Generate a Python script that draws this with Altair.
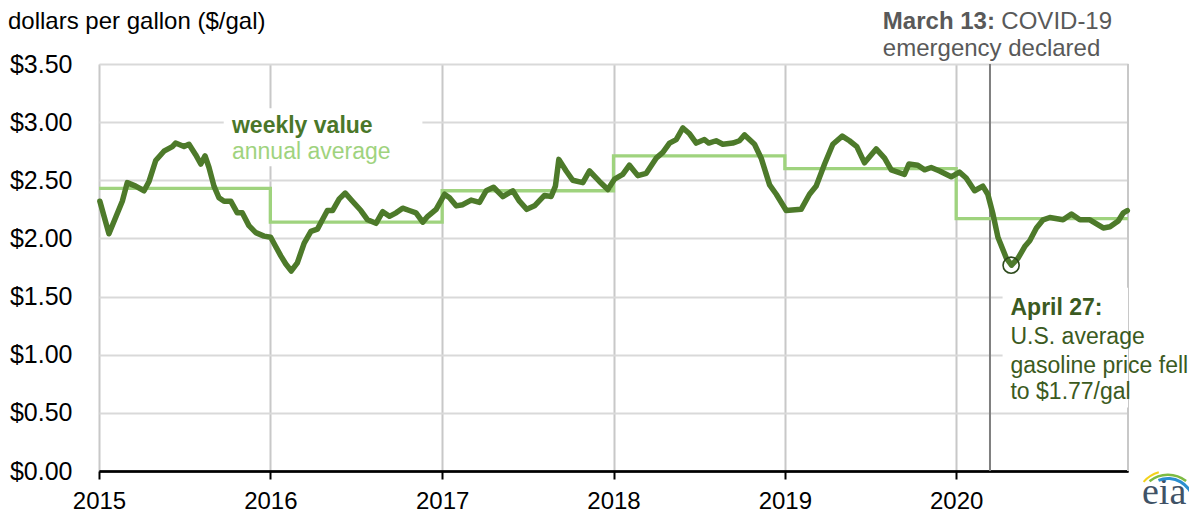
import altair as alt
import numpy as np
import pandas as pd

# ---- data ----
# weekly U.S. regular gasoline retail price (decimal year, $/gal)
weekly_time = [
    2015.005, 2015.058, 2015.097, 2015.136, 2015.165, 2015.214, 2015.263, 2015.292, 2015.331,
    2015.379, 2015.428, 2015.447, 2015.496, 2015.525, 2015.564, 2015.594, 2015.619, 2015.642,
    2015.671, 2015.700, 2015.730, 2015.769, 2015.807, 2015.836, 2015.875, 2015.915, 2015.963,
    2016.002, 2016.031, 2016.061, 2016.090, 2016.122, 2016.157, 2016.197, 2016.236, 2016.274,
    2016.303, 2016.332, 2016.362, 2016.401, 2016.436, 2016.478, 2016.527, 2016.566, 2016.615,
    2016.654, 2016.693, 2016.732, 2016.770, 2016.809, 2016.848, 2016.887, 2016.916, 2016.965,
    2017.014, 2017.043, 2017.082, 2017.120, 2017.169, 2017.218, 2017.257, 2017.300, 2017.354,
    2017.412, 2017.451, 2017.494, 2017.539, 2017.597, 2017.636, 2017.661, 2017.681, 2017.724,
    2017.762, 2017.821, 2017.860, 2017.918, 2017.967,
    2018.006, 2018.054, 2018.093, 2018.142, 2018.191, 2018.249, 2018.288, 2018.327, 2018.366,
    2018.405, 2018.444, 2018.483, 2018.531, 2018.556, 2018.599, 2018.638, 2018.696, 2018.735,
    2018.765, 2018.823, 2018.862, 2018.911, 2018.950,
    2019.008, 2019.095, 2019.144, 2019.183, 2019.232, 2019.280, 2019.335, 2019.377, 2019.420,
    2019.465, 2019.533, 2019.582, 2019.621, 2019.698, 2019.724, 2019.776, 2019.815, 2019.854,
    2019.903, 2019.971,
    2020.019, 2020.058, 2020.107, 2020.155, 2020.184, 2020.214, 2020.243, 2020.292, 2020.322,
    2020.360, 2020.399, 2020.428, 2020.467, 2020.506, 2020.545, 2020.622, 2020.671, 2020.720,
    2020.778, 2020.856, 2020.895, 2020.943, 2020.973, 2020.996,
]
weekly_price = [
    2.32, 2.04, 2.18, 2.32, 2.48, 2.45, 2.41, 2.49, 2.67,
    2.75, 2.79, 2.82, 2.79, 2.81, 2.72, 2.64, 2.71, 2.61,
    2.45, 2.35, 2.32, 2.32, 2.22, 2.22, 2.11, 2.05, 2.02,
    2.01, 1.93, 1.85, 1.78, 1.72, 1.79, 1.96, 2.06, 2.08,
    2.16, 2.24, 2.24, 2.34, 2.39, 2.32, 2.24, 2.16, 2.13,
    2.23, 2.19, 2.22, 2.26, 2.24, 2.22, 2.14, 2.19, 2.25,
    2.38, 2.35, 2.28, 2.29, 2.33, 2.31, 2.41, 2.44, 2.36,
    2.41, 2.32, 2.25, 2.28, 2.37, 2.36, 2.45, 2.68, 2.58,
    2.50, 2.48, 2.58, 2.49, 2.42,
    2.51, 2.55, 2.63, 2.54, 2.56, 2.69, 2.74, 2.82, 2.85,
    2.95, 2.90, 2.82, 2.85, 2.82, 2.84, 2.81, 2.82, 2.84,
    2.89, 2.81, 2.69, 2.46, 2.38,
    2.24, 2.25, 2.38, 2.45, 2.64, 2.81, 2.88, 2.84, 2.79,
    2.65, 2.77, 2.69, 2.59, 2.55, 2.64, 2.63, 2.59, 2.61,
    2.58, 2.53,
    2.57, 2.52, 2.41, 2.45, 2.38, 2.21, 2.01, 1.83, 1.77,
    1.83, 1.93, 1.98, 2.09, 2.16, 2.18, 2.16, 2.21, 2.16,
    2.16, 2.09, 2.10, 2.15, 2.22, 2.24,
]
years = [2015, 2016, 2017, 2018, 2019, 2020]
annual_avg = [2.43, 2.14, 2.41, 2.71, 2.60, 2.17]
y_ticks = [0, 0.5, 1.0, 1.5, 2.0, 2.5, 3.0, 3.5]
low_date = "2020-04-27"
low_price = 1.77
covid_date = "2020-03-13"

# ---- styling ----
FONT = "Liberation Sans"
DARK = "#4d7a2a"
LIGHT = "#9fd37e"
TXT_DARK = "#3b5a21"
GREY_TXT = "#595959"


def dec_to_date(d):
    y = int(np.floor(d))
    start = pd.Timestamp(year=y, month=1, day=1)
    end = pd.Timestamp(year=y + 1, month=1, day=1)
    return (start + (end - start) * (d - y)).strftime("%Y-%m-%dT%H:%M:%S")


weekly = pd.DataFrame({"date": [dec_to_date(t) for t in weekly_time], "price": weekly_price})
annual = pd.DataFrame({
    "date": [f"{y}-01-01T00:00:00" for y in years] + [f"{years[-1] + 1}-01-01T00:00:00"],
    "price": annual_avg + [annual_avg[-1]],
})

xs = alt.Scale(domain=[alt.DateTime(year=2015, month=1, date=1),
                       alt.DateTime(year=2021, month=1, date=1)], nice=False)
ys = alt.Scale(domain=[0, 3.5], nice=False, zero=False)

x_axis = alt.Axis(
    values=[alt.DateTime(year=y, month=1, date=1) for y in years],
    format="%Y", title=None, labelFont=FONT, labelFontSize=24, labelColor="black",
    labelPadding=10, tickSize=8, tickWidth=2, tickColor="black",
    domainColor="black", domainWidth=2.5, grid=True, gridColor="#c8c8c8", gridWidth=2,
    labelFlush=False,
)
y_axis = alt.Axis(
    values=y_ticks, format="$.2f", title=None, labelFont=FONT, labelFontSize=25,
    labelColor="black", labelPadding=27, ticks=False, domain=False,
    gridColor={"condition": {"test": "datum.value === 0", "value": "black"}, "value": "#d9d9d9"},
    gridWidth=2,
)


def one(**cols):
    return pd.DataFrame({k: [v] for k, v in cols.items()})


def xenc(field="x:T"):
    return alt.X(field, scale=xs, axis=x_axis)


def yenc(field="y:Q"):
    return alt.Y(field, scale=ys, axis=y_axis)


# end-of-range vertical gridline
end_grid = alt.Chart(one(x="2021-01-01T00:00:00", y=0, y2=3.5)).mark_rule(
    color="#c8c8c8", strokeWidth=2
).encode(x=xenc(), y=yenc(), y2="y2:Q")

# white boxes behind the text blocks
legend_box = alt.Chart(one(x=dec_to_date(2015.728), x2=dec_to_date(2016.885), y=2.62, y2=3.12)).mark_rect(
    color="white"
).encode(x=xenc(), x2="x2:T", y=yenc(), y2="y2:Q")
note_box = alt.Chart(one(x=dec_to_date(2020.27), x2="2021-06-01T00:00:00", y=0.545, y2=1.575)).mark_rect(
    color="white", clip=True
).encode(x=xenc(), x2="x2:T", y=yenc(), y2="y2:Q")

covid_rule = alt.Chart(one(x=covid_date + "T00:00:00", y=0, y2=3.5)).mark_rule(
    color="#7f7f7f", strokeWidth=2
).encode(x=xenc(), y=yenc(), y2="y2:Q")

annual_line = alt.Chart(annual).mark_line(
    color=LIGHT, strokeWidth=3.3, interpolate="step-after"
).encode(x=xenc("date:T"), y=yenc("price:Q"))

weekly_line = alt.Chart(weekly).mark_line(
    color=DARK, strokeWidth=5.5, strokeJoin="round", strokeCap="round"
).encode(x=xenc("date:T"), y=yenc("price:Q"))

low_circle = alt.Chart(one(x=low_date + "T00:00:00", y=low_price)).mark_point(
    shape="circle", filled=False, size=260, color="#2d4a1c", strokeWidth=1.6, opacity=1
).encode(x=xenc(), y=yenc())


def label(text, t, v, color, bold=False, size=24):
    return alt.Chart(one(x=dec_to_date(t), y=v, t=text)).mark_text(
        align="left", baseline="alphabetic", font=FONT, fontSize=size,
        fontWeight="bold" if bold else "normal", color=color,
    ).encode(x=xenc(), y=yenc(), text="t:N")


texts = [
    label("weekly value", 2015.776, 2.909, "#4a7729", bold=True, size=23),
    label("annual average", 2015.776, 2.680, LIGHT, size=23),
    label("March 13:", 2019.572, 3.798, GREY_TXT, bold=True),
    label("COVID-19", 2020.263, 3.798, GREY_TXT),
    label("emergency declared", 2019.572, 3.568, GREY_TXT),
    label("April 27:", 2020.316, 1.339, TXT_DARK, bold=True, size=23),
    label("U.S. average", 2020.316, 1.089, TXT_DARK, size=23),
    label("gasoline price fell", 2020.316, 0.845, TXT_DARK, size=23),
    label("to $1.77/gal", 2020.316, 0.617, TXT_DARK, size=23),
]

title = alt.Chart(one(t="dollars per gallon ($/gal)")).mark_text(
    align="left", baseline="alphabetic", font=FONT, fontSize=24, color="black"
).encode(x=alt.value(-91), y=alt.value(-35), text="t:N")

# eia logo (approximation)
logo_text = alt.Chart(one(t="eia")).mark_text(
    align="left", baseline="alphabetic", font="Liberation Serif", fontSize=38, color="#3f5266"
).encode(x=alt.value(1043), y=alt.value(440), text="t:N")
LX, LY = 1069, 440
arc_blue = alt.Chart(one(a=1)).mark_arc(
    radius=24, radius2=27, theta=5.9, theta2=7.7, color="#2b8fd0"
).encode(x=alt.value(LX), y=alt.value(LY))
arc_green = alt.Chart(one(a=1)).mark_arc(
    radius=28, radius2=30.5, theta=5.6, theta2=6.95, color="#7dbb42"
).encode(x=alt.value(LX), y=alt.value(LY))
arc_yellow = alt.Chart(one(a=1)).mark_arc(
    radius=32, radius2=34, theta=5.45, theta2=6.0, color="#f3d21c"
).encode(x=alt.value(LX), y=alt.value(LY))

chart = alt.layer(
    end_grid, legend_box, note_box, covid_rule, annual_line, weekly_line,
    low_circle, *texts, title, logo_text, arc_blue, arc_green, arc_yellow,
).properties(
    width=1029, height=407,
    autosize=alt.AutoSizeParams(type="none"),
    padding={"left": 91, "top": 56, "right": 61, "bottom": 44},
).configure_view(stroke=None).configure(background="white")

chart.save("out.html", embed_options={"renderer": "svg", "actions": False})
